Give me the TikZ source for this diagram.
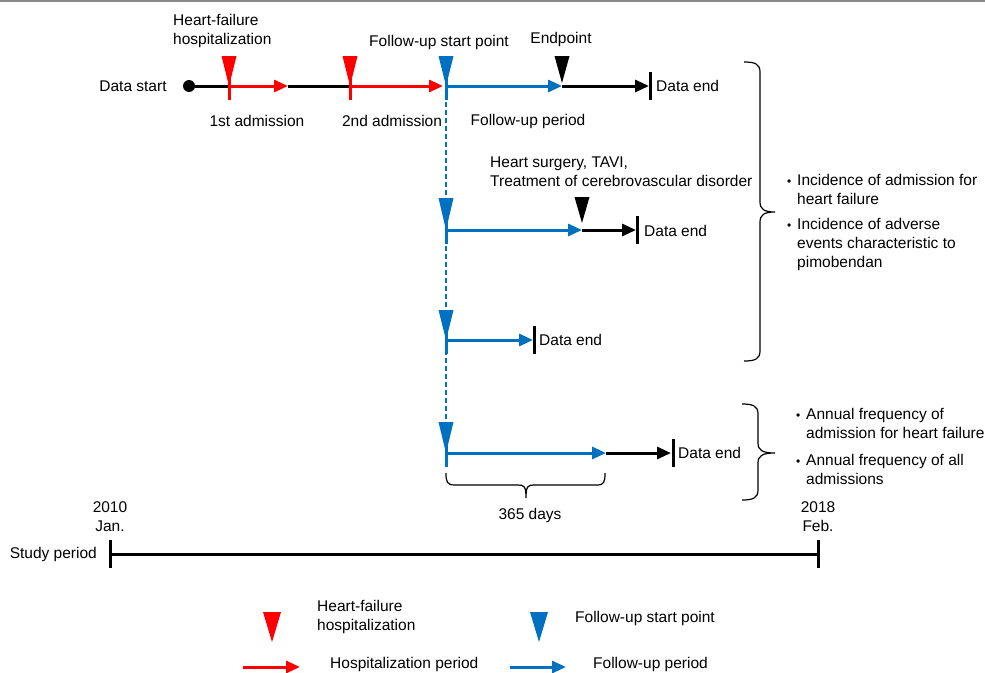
\documentclass[tikz,border=0pt]{standalone}
\usepackage{fontspec}
\setmainfont{Liberation Sans}
\usetikzlibrary{arrows.meta,calc}
\definecolor{hred}{HTML}{FF0000}
\definecolor{fblue}{HTML}{0070C0}
\definecolor{topgray}{HTML}{8A8A8A}
\newcommand{\mytri}[3]{\fill[#1] ($(#2)+(-7.5,-#3)$) -- ($(#2)+(7.5,-#3)$) -- (#2) -- cycle;}
\newcommand{\mystem}[2]{\draw[#1,line width=3pt] ($(#2)+(0,-10)$) -- ($(#2)+(0,14)$);}
\newcommand{\mybar}[1]{\draw[line width=3pt] ($(#1)+(0,-14)$) -- ($(#1)+(0,14)$);}
\newcommand{\mybul}{\llap{{\fontsize{12}{12}\selectfont •}\hspace{6pt}}}
\begin{document}
\begin{tikzpicture}[x=1pt,y=-1pt,
  font=\fontsize{15.5}{19}\selectfont,
  every node/.style={inner sep=0pt},
  seg/.style={line width=3pt},
  tip/.style={-{Triangle[length=14pt,width=12pt]}},
  harr/.style={seg,hred,tip},
  farr/.style={seg,fblue,tip},
  barr/.style={seg,black,tip},
  brace/.style={line width=1.2pt,black},
  lbl/.style={align=left}]
\useasboundingbox (0,0) rectangle (985,672);
\draw[topgray,line width=1.6pt] (0,0.8) -- (985,0.8);

% coordinates row 1
\coordinate (ds) at (189,86);
\coordinate (h1) at (229,86);
\coordinate (e1) at (288,86);
\coordinate (h2) at (350,86);
\coordinate (f0) at (446,86);
\coordinate (ep) at (562,86);
\coordinate (de0) at (650,86);
% row 2
\coordinate (f1) at (446,230);
\coordinate (ep1) at (582,230);
\coordinate (de1) at (637,230);
% row 3
\coordinate (f2) at (446,340);
\coordinate (de2) at (534,340);
% row 4
\coordinate (f3) at (446,453);
\coordinate (e3) at (606,453);
\coordinate (de3) at (673,453);

% dashed link
\draw[fblue,line width=1.5pt,dash pattern=on 5pt off 3pt] (f0) -- (f3);

% row 1
\fill (ds) circle (6);
\draw[seg] (ds) -- (h1);
\draw[harr] (h1) -- (e1);
\draw[seg] (e1) -- (h2);
\draw[harr,shorten >=3pt] (h2) -- (f0);
\draw[farr] (f0) -- (ep);
\draw[barr,shorten >=1pt] (ep) -- (de0);
\mybar{de0}
\mystem{hred}{h1}\mytri{hred}{h1}{30}
\mystem{hred}{h2}\mytri{hred}{h2}{30}
\mystem{fblue}{f0}\mytri{fblue}{f0}{30}
\mytri{black}{$(ep)+(0,-3)$}{27}

\node (dstart) at (133,86) {Data start};
\node[lbl,anchor=west] (hfh) at (173,30.5) {Heart-failure\\hospitalization};
\node (adm1) at (257,121) {1st admission};
\node (adm2) at (392,121) {2nd admission};
\node (fsp) at (439,42) {Follow-up start point};
\node (endp) at (561,39) {Endpoint};
\node (fup) at (528,121) {Follow-up period};
\node[anchor=west] (dend0) at (656,86) {Data end};

% row 2
\draw[farr] (f1) -- (ep1);
\draw[barr,shorten >=1pt] (ep1) -- (de1);
\mybar{de1}
\mystem{fblue}{f1}\mytri{fblue}{f1}{32}
\mytri{black}{$(ep1)+(0,-7)$}{26}
\node[lbl,anchor=west] (surg) at (490,172) {Heart surgery, TAVI,\\Treatment of cerebrovascular disorder};
\node[anchor=west] (dend1) at (644,231) {Data end};

% row 3
\draw[farr,shorten >=1pt] (f2) -- (de2);
\mybar{de2}
\mystem{fblue}{f2}\mytri{fblue}{f2}{30}
\node[anchor=west] (dend2) at (539,340) {Data end};

% row 4
\draw[farr] (f3) -- (e3);
\draw[barr,shorten >=2pt] (e3) -- (de3);
\mybar{de3}
\mystem{fblue}{f3}\mytri{fblue}{f3}{31}
\node[anchor=west] (dend3) at (678,453) {Data end};

% 365 days brace
\coordinate (bl) at (446,473);
\coordinate (br) at (605,473);
\coordinate (bm) at (526,498);
\draw[brace] (bl) .. controls (446,482) and (447,485) .. (455,485) -- (518,485)
  .. controls (524,485) and (526,486) .. (bm)
  .. controls (526,486) and (528,485) .. (534,485) -- (597,485)
  .. controls (604,485) and (605,482) .. (br);
\node (d365) at (530,515) {365 days};

% big right brace
\coordinate (B1t) at (744,62);
\coordinate (B1m) at (775,212);
\coordinate (B1b) at (744,361);
\draw[brace] (B1t) .. controls (755,62) and (760,64) .. (760,72) -- (760,202)
  .. controls (760,209) and (764,212) .. (B1m)
  .. controls (764,212) and (760,215) .. (760,222) -- (760,351)
  .. controls (760,359) and (755,361) .. (B1b);

% second right brace
\coordinate (B2t) at (742,404);
\coordinate (B2m) at (775,453);
\coordinate (B2b) at (742,500);
\draw[brace] (B2t) .. controls (753,404) and (758,406) .. (758,414) -- (758,443)
  .. controls (758,450) and (762,453) .. (B2m)
  .. controls (762,453) and (758,456) .. (758,463) -- (758,490)
  .. controls (758,498) and (753,500) .. (B2b);

% bullet items
\node[lbl,anchor=west] (t1) at (797,189) {\mybul Incidence of admission for\\heart failure};
\node[lbl,anchor=west] (t2) at (797,244) {\mybul Incidence of adverse\\events characteristic to\\pimobendan};
\node[lbl,anchor=west] (t3) at (806,423.5) {\mybul Annual frequency of\\admission for heart failure};
\node[lbl,anchor=west] (t4) at (806,469) {\mybul Annual frequency of all\\admissions};

% study period
\coordinate (s0) at (110,554);
\coordinate (s1) at (818,554);
\draw[seg] (s0) -- (s1);
\mybar{s0}
\mybar{s1}
\node[align=center] (y0) at (110,516.5) {2010\\Jan.};
\node[align=center] (y1) at (818,516.5) {2018\\Feb.};
\node[anchor=east] (sp) at (97,554) {Study period};

% legend
\coordinate (lr) at (272,642);
\coordinate (lb) at (539,642);
\fill[hred] ($(lr)+(-9,-30)$) -- ($(lr)+(9,-30)$) -- (lr) -- cycle;
\fill[fblue] ($(lb)+(-9,-30)$) -- ($(lb)+(9,-30)$) -- (lb) -- cycle;
\node[lbl,anchor=west] (lg1) at (317,617) {Heart-failure\\hospitalization};
\node[anchor=west] (lg2) at (575,618) {Follow-up start point};
\coordinate (la0) at (243,667);
\coordinate (la1) at (300,667);
\coordinate (lc0) at (510,667);
\coordinate (lc1) at (566,667);
\draw[harr] (la0) -- (la1);
\draw[farr] (lc0) -- (lc1);
\node[anchor=west] (lg3) at (330,664) {Hospitalization period};
\node[anchor=west] (lg4) at (593,664) {Follow-up period};
\end{tikzpicture}
\end{document}
